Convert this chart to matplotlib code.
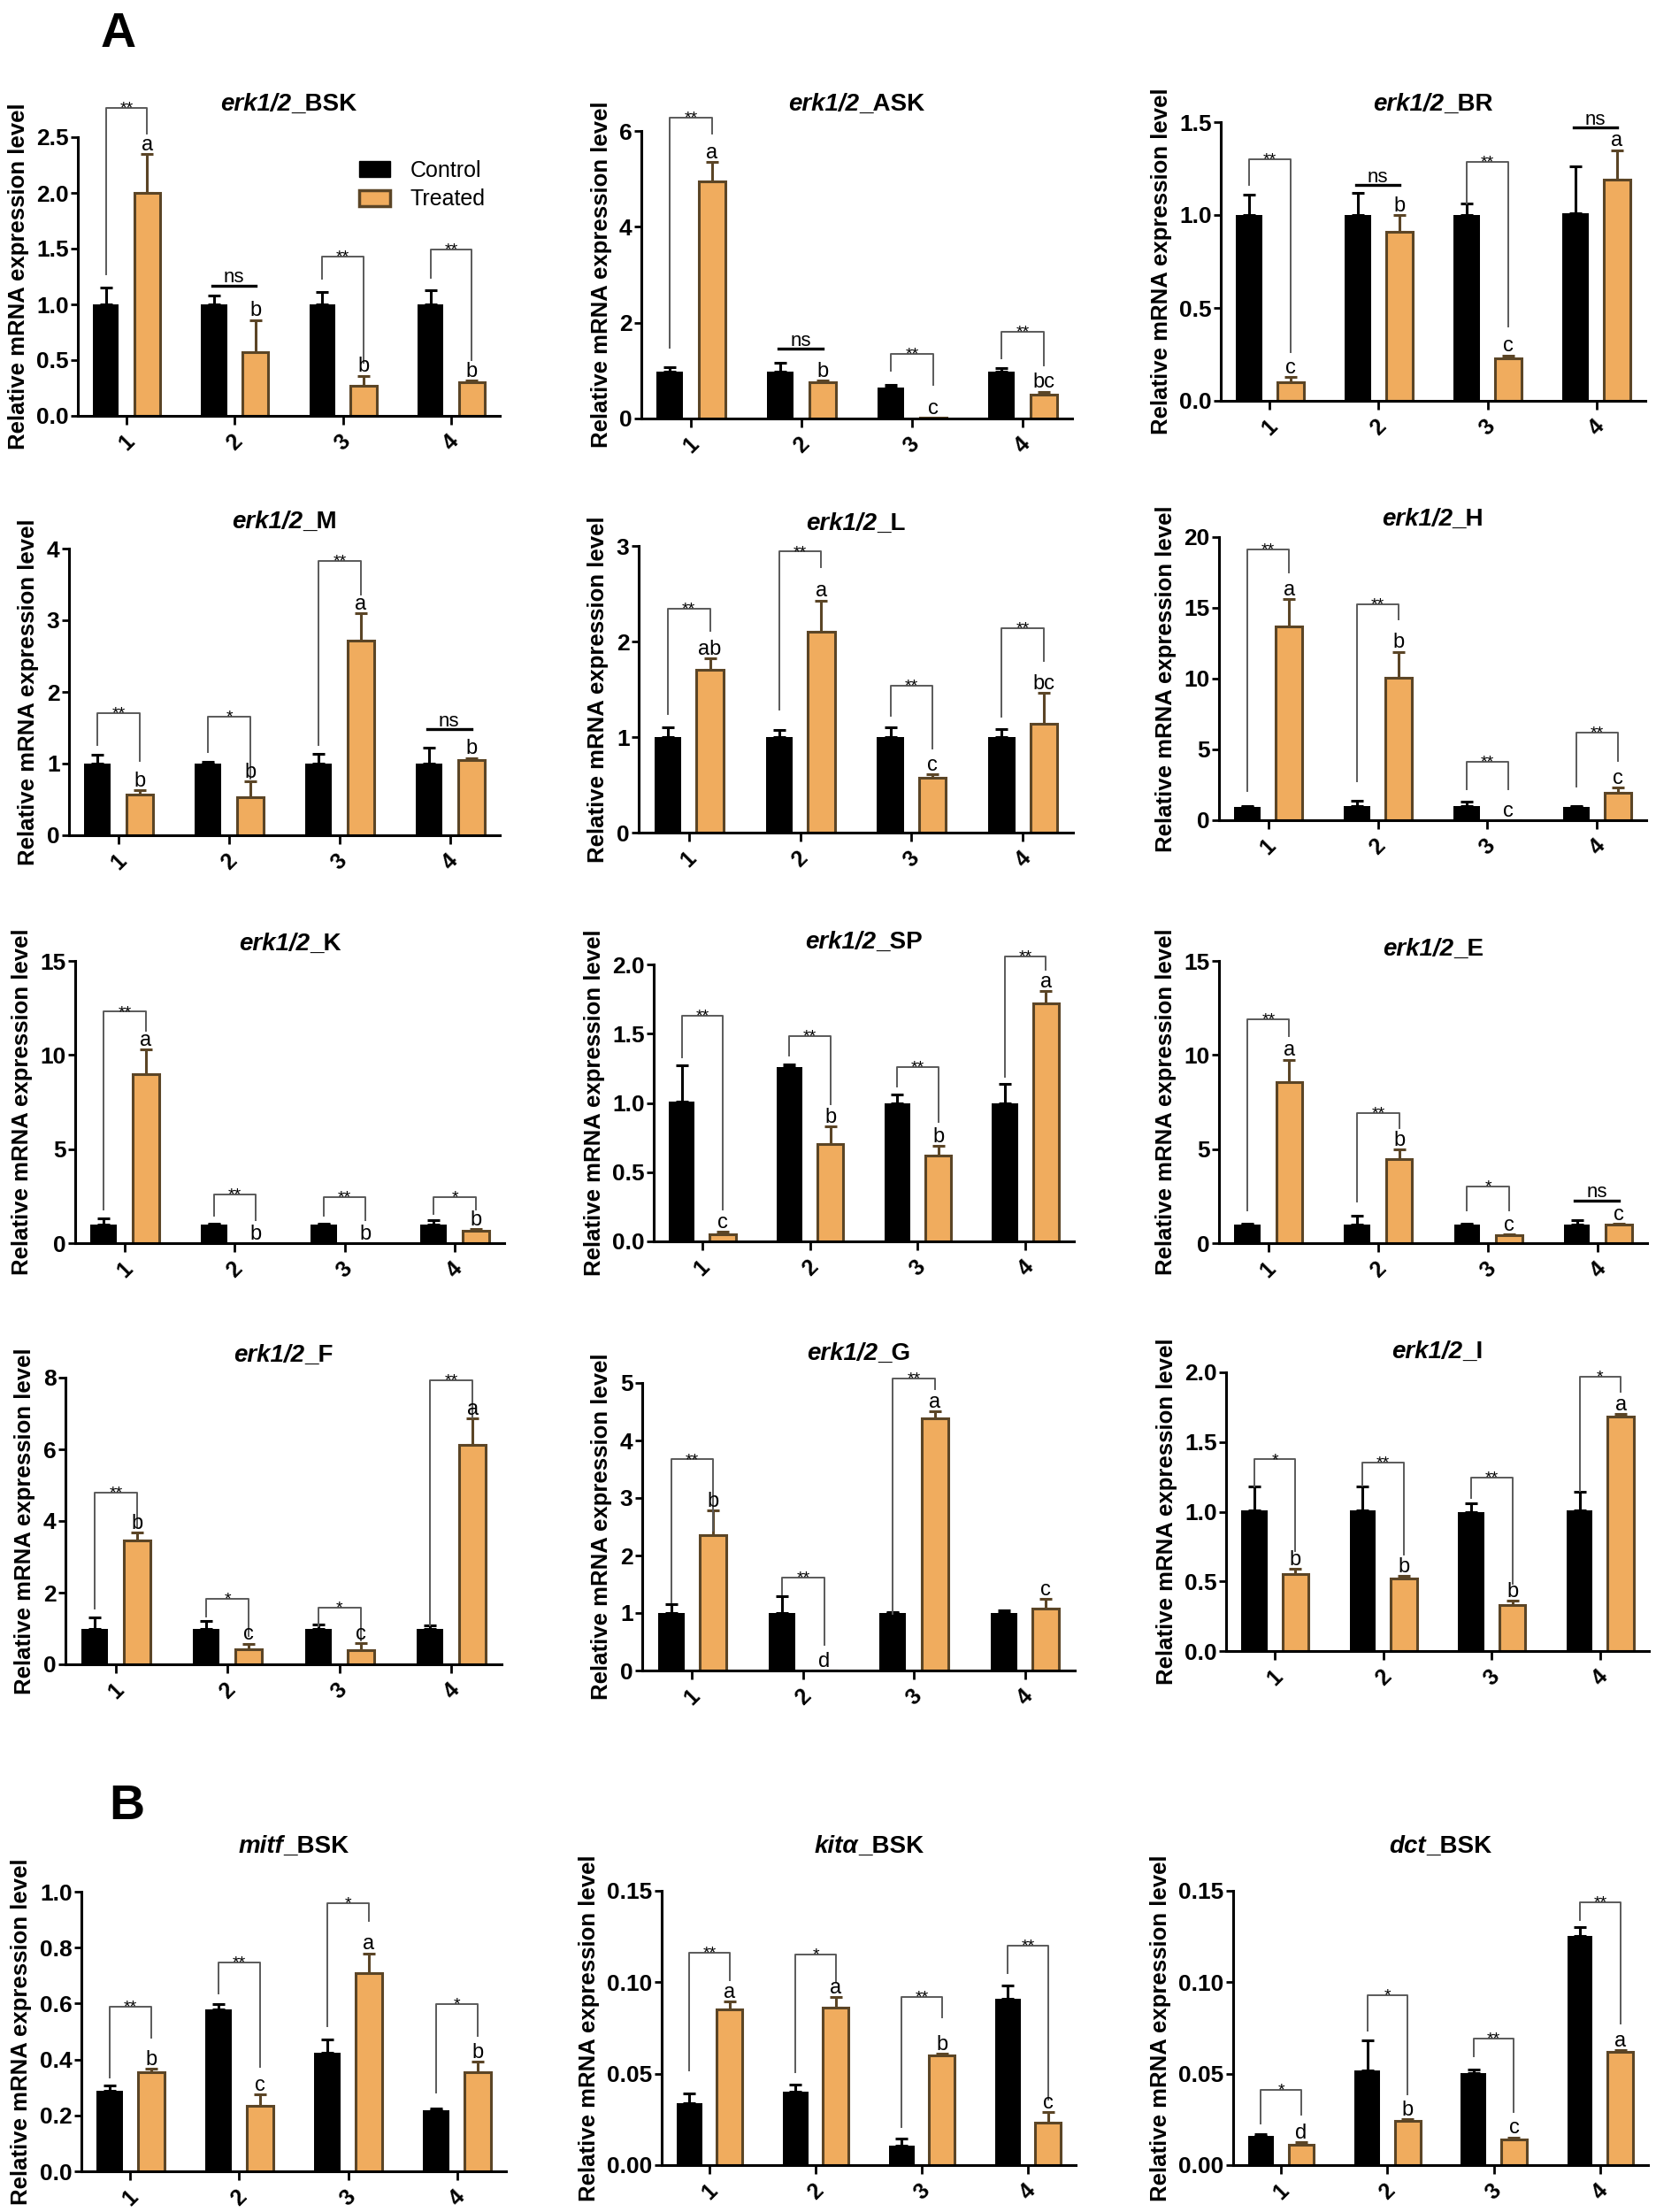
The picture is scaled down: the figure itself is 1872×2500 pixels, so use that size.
import numpy as np
import matplotlib
matplotlib.use('Agg')
import matplotlib.pyplot as plt
from matplotlib import font_manager
from matplotlib.patches import Patch

plt.rcParams['font.family'] = 'Liberation Sans'

_names = {f.name for f in font_manager.fontManager.ttflist}
NARROW = 'Liberation Sans Narrow' if 'Liberation Sans Narrow' in _names else 'Liberation Sans'

ORANGE = '#F0AC5E'
BROWN = '#5B4526'
BRACKET = '#5a5a5a'
BW = 0.24     # bar width
OFF = 0.19    # half distance between the two bars of a group

groups = ['1', '2', '3', '4']
series = ['Control', 'Treated']

# ---- panel A ----
bsk_yticks = ['0.0', '0.5', '1.0', '1.5', '2.0', '2.5']
bsk_ctrl = [1.00, 1.00, 1.00, 1.00]
bsk_ctrl_err = [0.15, 0.08, 0.11, 0.13]
bsk_trt = [2.00, 0.57, 0.27, 0.30]
bsk_trt_err = [0.35, 0.29, 0.09, 0.02]
bsk_letters = ['a', 'b', 'b', 'b']
bsk_sig = ['**', 'ns', '**', '**']
bsk_br_top = [2.76, 1.17, 1.43, 1.49]
bsk_br_left = [1.27, None, 1.23, 1.24]
bsk_br_right = [2.53, None, 0.48, 0.50]

ask_yticks = ['0', '2', '4', '6']
ask_ctrl = [0.98, 0.98, 0.65, 0.98]
ask_ctrl_err = [0.10, 0.18, 0.05, 0.07]
ask_trt = [4.95, 0.75, 0.02, 0.50]
ask_trt_err = [0.40, 0.04, 0.0, 0.06]
ask_letters = ['a', 'b', 'c', 'bc']
ask_sig = ['**', 'ns', '**', '**']
ask_br_top = [6.28, 1.45, 1.35, 1.81]
ask_br_left = [1.47, None, 1.00, 1.25]
ask_br_right = [5.94, None, 0.70, 1.10]

br_yticks = ['0.0', '0.5', '1.0', '1.5']
br_ctrl = [1.00, 1.00, 1.00, 1.01]
br_ctrl_err = [0.11, 0.12, 0.06, 0.25]
br_trt = [0.10, 0.91, 0.23, 1.19]
br_trt_err = [0.03, 0.09, 0.015, 0.16]
br_letters = ['c', 'b', 'c', 'a']
br_sig = ['**', 'ns', '**', 'ns']
br_br_top = [1.30, 1.16, 1.285, 1.47]
br_br_left = [1.16, None, 1.06, None]
br_br_right = [0.26, None, 0.40, None]

m_yticks = ['0', '1', '2', '3', '4']
m_ctrl = [1.00, 1.00, 1.00, 1.00]
m_ctrl_err = [0.12, 0.02, 0.14, 0.22]
m_trt = [0.57, 0.53, 2.72, 1.05]
m_trt_err = [0.06, 0.22, 0.38, 0.03]
m_letters = ['b', 'b', 'a', 'b']
m_sig = ['**', '*', '**', 'ns']
m_br_top = [1.70, 1.65, 3.83, 1.48]
m_br_left = [1.26, 1.16, 1.26, None]
m_br_right = [1.04, 0.79, 3.36, None]

l_yticks = ['0', '1', '2', '3']
l_ctrl = [1.00, 1.00, 1.00, 1.00]
l_ctrl_err = [0.10, 0.07, 0.10, 0.08]
l_trt = [1.70, 2.10, 0.57, 1.14]
l_trt_err = [0.12, 0.33, 0.04, 0.32]
l_letters = ['ab', 'a', 'c', 'bc']
l_sig = ['**', '**', '**', '**']
l_br_top = [2.34, 2.94, 1.54, 2.14]
l_br_left = [1.24, 1.29, 1.22, 1.21]
l_br_right = [2.11, 2.78, 0.88, 1.80]

h_yticks = ['0', '5', '10', '15', '20']
h_ctrl = [0.95, 1.00, 1.00, 0.95]
h_ctrl_err = [0.05, 0.40, 0.30, 0.05]
h_trt = [13.7, 10.05, 0.0, 1.95]
h_trt_err = [1.9, 1.85, 0.0, 0.35]
h_letters = ['a', 'b', 'c', 'c']
h_sig = ['**', '**', '**', '**']
h_br_top = [19.1, 15.25, 4.1, 6.2]
h_br_left = [2.08, 2.75, 2.2, 2.35]
h_br_right = [17.5, 14.2, 2.2, 4.2]

k_yticks = ['0', '5', '10', '15']
k_ctrl = [1.00, 1.00, 1.00, 1.00]
k_ctrl_err = [0.30, 0.05, 0.05, 0.20]
k_trt = [9.0, 0.0, 0.0, 0.65]
k_trt_err = [1.3, 0.0, 0.0, 0.10]
k_letters = ['a', 'b', 'b', 'b']
k_sig = ['**', '**', '**', '*']
k_br_top = [12.3, 2.6, 2.45, 2.45]
k_br_left = [1.8, 1.45, 1.45, 1.57]
k_br_right = [11.3, 1.2, 1.2, 1.8]

sp_yticks = ['0.0', '0.5', '1.0', '1.5', '2.0']
sp_ctrl = [1.01, 1.26, 1.00, 1.00]
sp_ctrl_err = [0.26, 0.02, 0.06, 0.14]
sp_trt = [0.05, 0.70, 0.62, 1.72]
sp_trt_err = [0.02, 0.13, 0.07, 0.09]
sp_letters = ['c', 'b', 'b', 'a']
sp_sig = ['**', '**', '**', '**']
sp_br_top = [1.63, 1.485, 1.26, 2.06]
sp_br_left = [1.33, 1.34, 1.12, 1.19]
sp_br_right = [0.23, 0.99, 0.86, 1.96]

e_yticks = ['0', '5', '10', '15']
e_ctrl = [1.00, 1.00, 1.00, 1.00]
e_ctrl_err = [0.05, 0.45, 0.05, 0.20]
e_trt = [8.55, 4.45, 0.40, 0.97]
e_trt_err = [1.2, 0.55, 0.08, 0.08]
e_letters = ['a', 'b', 'c', 'c']
e_sig = ['**', '**', '*', 'ns']
e_br_top = [11.9, 6.9, 3.0, 2.27]
e_br_left = [1.72, 2.2, 1.72, None]
e_br_right = [11.0, 6.1, 1.72, None]

f_yticks = ['0', '2', '4', '6', '8']
f_ctrl = [1.00, 1.00, 1.00, 1.00]
f_ctrl_err = [0.30, 0.20, 0.10, 0.08]
f_trt = [3.45, 0.43, 0.40, 6.12]
f_trt_err = [0.22, 0.15, 0.20, 0.75]
f_letters = ['b', 'c', 'c', 'a']
f_sig = ['**', '*', '*', '**']
f_br_top = [4.8, 1.83, 1.58, 7.92]
f_br_left = [1.56, 1.33, 1.05, 1.09]
f_br_right = [3.82, 0.80, 0.67, 6.89]

g_yticks = ['0', '1', '2', '3', '4', '5']
g_ctrl = [1.00, 1.00, 1.00, 1.00]
g_ctrl_err = [0.15, 0.30, 0.02, 0.05]
g_trt = [2.35, 0.0, 4.38, 1.07]
g_trt_err = [0.43, 0.0, 0.13, 0.18]
g_letters = ['b', 'd', 'a', 'c']
g_sig = ['**', '**', '**', '']
g_br_top = [3.67, 1.62, 5.08, None]
g_br_left = [1.19, 1.33, 0.99, None]
g_br_right = [2.43, 0.45, 4.9, None]

i_yticks = ['0.0', '0.5', '1.0', '1.5', '2.0']
i_ctrl = [1.01, 1.01, 1.00, 1.01]
i_ctrl_err = [0.17, 0.17, 0.06, 0.13]
i_trt = [0.55, 0.52, 0.33, 1.68]
i_trt_err = [0.04, 0.02, 0.03, 0.02]
i_letters = ['b', 'b', 'b', 'a']
i_sig = ['*', '**', '**', '*']
i_br_top = [1.375, 1.35, 1.245, 1.97]
i_br_left = [1.18, 1.19, 1.10, 1.15]
i_br_right = [0.715, 0.69, 0.48, 1.86]

# ---- panel B ----
mitf_yticks = ['0.0', '0.2', '0.4', '0.6', '0.8', '1.0']
mitf_ctrl = [0.287, 0.578, 0.425, 0.219]
mitf_ctrl_err = [0.02, 0.02, 0.047, 0.005]
mitf_trt = [0.353, 0.234, 0.71, 0.353]
mitf_trt_err = [0.015, 0.04, 0.07, 0.04]
mitf_letters = ['b', 'c', 'a', 'b']
mitf_sig = ['**', '**', '*', '*']
mitf_br_top = [0.588, 0.746, 0.96, 0.597]
mitf_br_left = [0.335, 0.636, 0.52, 0.282]
mitf_br_right = [0.477, 0.372, 0.894, 0.483]

kit_yticks = ['0.00', '0.05', '0.10', '0.15']
kit_ctrl = [0.034, 0.040, 0.0105, 0.091]
kit_ctrl_err = [0.005, 0.004, 0.004, 0.007]
kit_trt = [0.085, 0.086, 0.060, 0.023]
kit_trt_err = [0.0045, 0.006, 0.001, 0.006]
kit_letters = ['a', 'a', 'b', 'c']
kit_sig = ['**', '*', '**', '**']
kit_br_top = [0.116, 0.115, 0.092, 0.120]
kit_br_left = [0.052, 0.051, 0.021, 0.105]
kit_br_right = [0.101, 0.100, 0.081, 0.036]

dct_yticks = ['0.00', '0.05', '0.10', '0.15']
dct_ctrl = [0.016, 0.052, 0.0505, 0.1255]
dct_ctrl_err = [0.001, 0.016, 0.002, 0.0045]
dct_trt = [0.011, 0.024, 0.0142, 0.062]
dct_trt_err = [0.0015, 0.001, 0.001, 0.001]
dct_letters = ['d', 'b', 'c', 'a']
dct_sig = ['*', '*', '**', '**']
dct_br_top = [0.041, 0.093, 0.0694, 0.1439]
dct_br_left = [0.0226, 0.0734, 0.0597, 0.134]
dct_br_right = [0.0277, 0.0387, 0.029, 0.0774]

W, H = 1872, 2500
fig = plt.figure(figsize=(W / 100, H / 100), dpi=100)
renderer = fig.canvas.get_renderer()


def add_title(xc, y, gene, tissue, family):
    # italic gene name + upright tissue code, centred together on xc
    t1 = fig.text(xc, y, gene, style='italic', fontweight='bold', fontsize=20,
                  ha='right', va='center', family=family)
    t2 = fig.text(xc, y, tissue, fontweight='bold', fontsize=20,
                  ha='left', va='center', family=family)
    w1 = t1.get_window_extent(renderer).width
    w2 = t2.get_window_extent(renderer).width
    shift = (w1 - w2) / 2 / W
    t1.set_x(xc + shift)
    t2.set_x(xc + shift)


def draw_panel(box, title_y, gene, tissue, yticks, ctrl, ctrl_err, trt, trt_err,
               letters, sig, br_top, br_left, br_right, family='Liberation Sans',
               legend=False):
    # box = left, right, top (ymax) and bottom (y=0) in pixels
    L, R, T, B = box
    ax = fig.add_axes([L / W, 1 - B / H, (R - L) / W, (B - T) / H])
    x = np.arange(len(groups))
    ctrl = np.array(ctrl)
    trt = np.array(trt)
    ctrl_err = np.array(ctrl_err)
    trt_err = np.array(trt_err)

    ax.bar(x - OFF, ctrl, BW, color='black', zorder=2)
    ax.bar(x + OFF, trt, BW, color=ORANGE, edgecolor=BROWN, linewidth=2.2, zorder=2)
    m = ctrl_err > 0
    ax.errorbar((x - OFF)[m], ctrl[m], yerr=[np.zeros(m.sum()), ctrl_err[m]], fmt='none',
                ecolor='black', elinewidth=2.2, capsize=5, capthick=2.2, zorder=1)
    m = trt_err > 0
    ax.errorbar((x + OFF)[m], trt[m], yerr=[np.zeros(m.sum()), trt_err[m]], fmt='none',
                ecolor=BROWN, elinewidth=2.2, capsize=5, capthick=2.2, zorder=1)

    for i in range(len(groups)):
        ax.annotate(letters[i], (x[i] + OFF, trt[i] + trt_err[i]), xytext=(0, 3),
                    textcoords='offset points', ha='center', va='baseline',
                    fontsize=17, family=family, annotation_clip=False)
        if sig[i] == 'ns':
            ax.plot([x[i] - 0.21, x[i] + 0.19], [br_top[i], br_top[i]], color='black',
                    lw=2.4, clip_on=False)
            ax.annotate('ns', (x[i] - 0.01, br_top[i]), xytext=(0, 2.5),
                        textcoords='offset points', ha='center', va='baseline',
                        fontsize=16, family=family, annotation_clip=False)
        elif sig[i]:
            ax.plot([x[i] - OFF, x[i] - OFF, x[i] + OFF, x[i] + OFF],
                    [br_left[i], br_top[i], br_top[i], br_right[i]],
                    color=BRACKET, lw=1.4, clip_on=False)
            ax.annotate(sig[i], (x[i], br_top[i]), xytext=(0, -4),
                        textcoords='offset points', ha='center', va='baseline',
                        fontsize=14, family=family, annotation_clip=False)

    ax.set_xlim(-0.45, 3.45)
    ax.set_ylim(0, float(yticks[-1]))
    ax.set_yticks([float(t) for t in yticks])
    ax.set_yticklabels(yticks, fontsize=19, fontweight='bold', family=family)
    ax.set_xticks(x)
    ax.set_xticklabels(groups, rotation=45, fontsize=18, fontweight='bold', family=family)
    for s in ['top', 'right']:
        ax.spines[s].set_visible(False)
    for s in ['left', 'bottom']:
        ax.spines[s].set_linewidth(2.2)
        ax.spines[s].set_zorder(3)
    ax.tick_params(axis='y', direction='out', length=5.5, width=2, pad=2)
    ax.tick_params(axis='x', direction='out', length=7, width=2, pad=5)
    ax.set_ylabel('Relative mRNA expression level', fontsize=18.5, fontweight='bold',
                  family=family, labelpad=6)

    add_title((L + R) / 2 / W, 1 - title_y / H, gene, tissue, family)

    if legend:
        handles = [Patch(facecolor='black', edgecolor='black'),
                   Patch(facecolor=ORANGE, edgecolor=BROWN, linewidth=2.5)]
        ax.legend(handles, series, loc='upper left', bbox_to_anchor=(0.62, 0.99),
                  frameon=False, fontsize=18, handlelength=1.4, handleheight=0.75,
                  labelspacing=0.35, handletextpad=0.9)
    return ax


draw_panel((88, 565, 155, 470), 118, 'erk1/2', '_BSK', bsk_yticks, bsk_ctrl, bsk_ctrl_err,
           bsk_trt, bsk_trt_err, bsk_letters, bsk_sig, bsk_br_top, bsk_br_left,
           bsk_br_right, legend=True)
draw_panel((725, 1212, 148, 473), 118, 'erk1/2', '_ASK', ask_yticks, ask_ctrl, ask_ctrl_err,
           ask_trt, ask_trt_err, ask_letters, ask_sig, ask_br_top, ask_br_left, ask_br_right)
draw_panel((1380, 1860, 138, 453), 118, 'erk1/2', '_BR', br_yticks, br_ctrl, br_ctrl_err,
           br_trt, br_trt_err, br_letters, br_sig, br_br_top, br_br_left, br_br_right)

draw_panel((78, 565, 620, 944), 590, 'erk1/2', '_M', m_yticks, m_ctrl, m_ctrl_err,
           m_trt, m_trt_err, m_letters, m_sig, m_br_top, m_br_left, m_br_right)
draw_panel((722, 1213, 617, 941), 592, 'erk1/2', '_L', l_yticks, l_ctrl, l_ctrl_err,
           l_trt, l_trt_err, l_letters, l_sig, l_br_top, l_br_left, l_br_right)
draw_panel((1378, 1861, 607, 927), 587, 'erk1/2', '_H', h_yticks, h_ctrl, h_ctrl_err,
           h_trt, h_trt_err, h_letters, h_sig, h_br_top, h_br_left, h_br_right)

draw_panel((85, 570, 1086, 1405), 1067, 'erk1/2', '_K', k_yticks, k_ctrl, k_ctrl_err,
           k_trt, k_trt_err, k_letters, k_sig, k_br_top, k_br_left, k_br_right)
draw_panel((739, 1214, 1090, 1403), 1065, 'erk1/2', '_SP', sp_yticks, sp_ctrl, sp_ctrl_err,
           sp_trt, sp_trt_err, sp_letters, sp_sig, sp_br_top, sp_br_left, sp_br_right)
draw_panel((1378, 1862, 1086, 1405), 1073, 'erk1/2', '_E', e_yticks, e_ctrl, e_ctrl_err,
           e_trt, e_trt_err, e_letters, e_sig, e_br_top, e_br_left, e_br_right)

draw_panel((74, 567, 1557, 1881), 1532, 'erk1/2', '_F', f_yticks, f_ctrl, f_ctrl_err,
           f_trt, f_trt_err, f_letters, f_sig, f_br_top, f_br_left, f_br_right, family=NARROW)
draw_panel((726, 1215, 1563, 1888), 1530, 'erk1/2', '_G', g_yticks, g_ctrl, g_ctrl_err,
           g_trt, g_trt_err, g_letters, g_sig, g_br_top, g_br_left, g_br_right, family=NARROW)
draw_panel((1386, 1864, 1551, 1866), 1528, 'erk1/2', '_I', i_yticks, i_ctrl, i_ctrl_err,
           i_trt, i_trt_err, i_letters, i_sig, i_br_top, i_br_left, i_br_right, family=NARROW)

draw_panel((92, 572, 2138, 2454), 2087, 'mitf', '_BSK', mitf_yticks, mitf_ctrl, mitf_ctrl_err,
           mitf_trt, mitf_trt_err, mitf_letters, mitf_sig, mitf_br_top, mitf_br_left,
           mitf_br_right, family=NARROW)
draw_panel((748, 1216, 2137, 2447), 2087, 'kitα', '_BSK', kit_yticks, kit_ctrl, kit_ctrl_err,
           kit_trt, kit_trt_err, kit_letters, kit_sig, kit_br_top, kit_br_left,
           kit_br_right, family=NARROW)
draw_panel((1394, 1863, 2137, 2447), 2087, 'dct', '_BSK', dct_yticks, dct_ctrl, dct_ctrl_err,
           dct_trt, dct_trt_err, dct_letters, dct_sig, dct_br_top, dct_br_left,
           dct_br_right, family=NARROW)

fig.text(134 / W, 1 - 39 / H, 'A', fontsize=40, fontweight='bold', ha='center', va='center')
fig.text(143 / W, 1 - 2042 / H, 'B', fontsize=40, fontweight='bold', ha='center', va='center')

fig.savefig('out.png', dpi=100)
